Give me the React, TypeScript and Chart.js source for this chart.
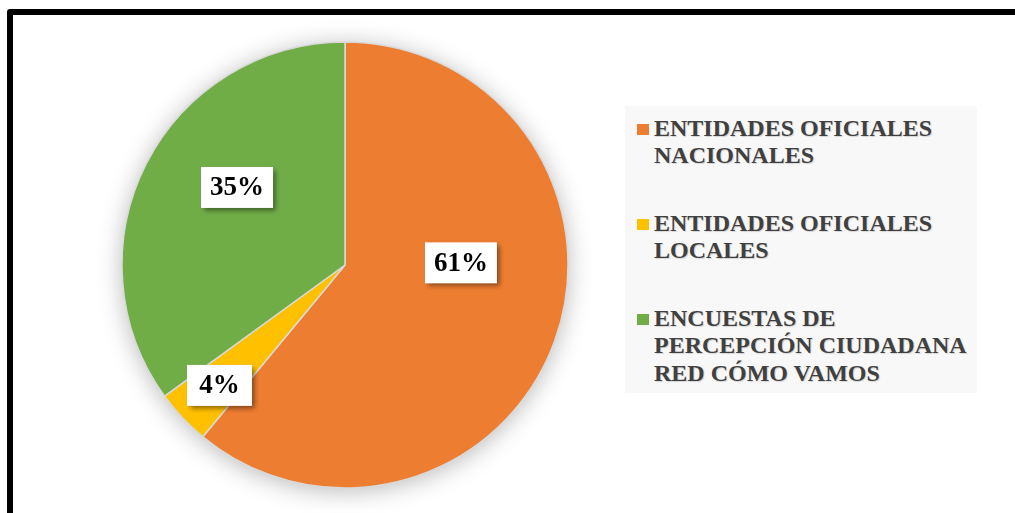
import React, { useEffect, useRef } from "react";
import { Chart, registerables } from "chart.js";

Chart.register(...registerables);

const categories: string[][] = [
  ["ENTIDADES OFICIALES", "NACIONALES"],
  ["ENTIDADES OFICIALES", "LOCALES"],
  ["ENCUESTAS DE", "PERCEPCIÓN CIUDADANA", "RED CÓMO VAMOS"],
];
const values: number[] = [61, 4, 35];
const valueLabels: string[] = ["61%", "4%", "35%"];
const colors: string[] = ["#ED7D31", "#FFC000", "#70AD47"];

// label placement inside each slice (fraction of slice angle, fraction of radius)
const labelAngleFrac = [0.405, 0.458, 0.569];
const labelRadiusFrac = [0.52, 0.78, 0.596];

const FONT = "'Liberation Serif', 'Times New Roman', serif";

const pieShadowPlugin = {
  id: "pieShadow",
  beforeDatasetsDraw(chart: any) {
    const meta = chart.getDatasetMeta(0);
    const arc = meta.data[0];
    if (!arc) return;
    const { x, y, outerRadius } = arc.getProps(["x", "y", "outerRadius"], true);
    const ctx = chart.ctx;
    ctx.save();
    ctx.beginPath();
    ctx.arc(x, y, outerRadius, 0, Math.PI * 2);
    ctx.fillStyle = "#ffffff";
    ctx.shadowColor = "rgba(0,0,0,0.28)";
    ctx.shadowBlur = 24;
    ctx.shadowOffsetX = 0;
    ctx.shadowOffsetY = 3;
    ctx.fill();
    ctx.restore();
  },
};

const valueLabelPlugin = {
  id: "valueLabels",
  afterDatasetsDraw(chart: any) {
    const meta = chart.getDatasetMeta(0);
    const ctx = chart.ctx;
    meta.data.forEach((arc: any, i: number) => {
      const p = arc.getProps(["x", "y", "startAngle", "endAngle", "outerRadius"], true);
      const a = p.startAngle + labelAngleFrac[i] * (p.endAngle - p.startAngle);
      const r = labelRadiusFrac[i] * p.outerRadius;
      const cx = p.x + Math.cos(a) * r;
      const cy = p.y + Math.sin(a) * r;
      const text = valueLabels[i];
      ctx.save();
      ctx.font = `bold 27px ${FONT}`;
      const tw = ctx.measureText(text).width;
      const bw = Math.max(tw + 18, 65);
      const bh = 41;
      ctx.fillStyle = "#ffffff";
      ctx.shadowColor = "rgba(0,0,0,0.45)";
      ctx.shadowBlur = 5;
      ctx.shadowOffsetX = 3;
      ctx.shadowOffsetY = 3;
      ctx.fillRect(cx - bw / 2, cy - bh / 2, bw, bh);
      ctx.shadowColor = "transparent";
      ctx.fillStyle = "#000000";
      ctx.textAlign = "center";
      ctx.textBaseline = "middle";
      ctx.fillText(text, cx, cy + 1);
      ctx.restore();
    });
  },
};

export default function App() {
  const ref = useRef<HTMLCanvasElement | null>(null);

  useEffect(() => {
    if (!ref.current) return;
    const chart = new Chart(ref.current, {
      type: "pie",
      data: {
        labels: categories.map((c) => c.join(" ")),
        datasets: [
          {
            data: values,
            backgroundColor: colors,
            borderColor: "#d9d9d9",
            borderWidth: 1.5,
            hoverOffset: 0,
          },
        ],
      },
      options: {
        animation: false,
        responsive: false,
        radius: 223,
        layout: { padding: { top: 17, bottom: 0, left: 0, right: 0 } },
        plugins: {
          legend: { display: false },
          tooltip: { enabled: false },
        },
      } as any,
      plugins: [pieShadowPlugin, valueLabelPlugin],
    });
    return () => chart.destroy();
  }, []);

  return (
    <div
      style={{
        position: "fixed",
        left: 0,
        top: 0,
        width: 1015,
        height: 513,
        overflow: "hidden",
        background: "#ffffff",
      }}
    >
      <canvas
        ref={ref}
        width={690}
        height={513}
        style={{ position: "absolute", left: 0, top: 0, width: 690, height: 513 }}
      />
      <div
        style={{
          position: "absolute",
          left: 625,
          top: 106,
          width: 352,
          height: 287,
          background: "#f8f8f8",
        }}
      >
        {categories.map((lines, i) => (
          <div
            key={i}
            style={{
              position: "absolute",
              left: 29,
              top: 8.6 + i * 95,
              fontFamily: FONT,
              fontWeight: "bold",
              fontSize: 24,
              lineHeight: "27.5px",
              color: "#404040",
              whiteSpace: "nowrap",
              textShadow: "1px 1px 1px rgba(0,0,0,0.15)",
            }}
          >
            <span
              style={{
                position: "absolute",
                left: -17,
                top: 9,
                width: 12,
                height: 11,
                background: colors[i],
              }}
            />
            {lines.map((l, j) => (
              <div key={j}>{l}</div>
            ))}
          </div>
        ))}
      </div>
      <div
        style={{
          position: "absolute",
          left: 7,
          top: 9,
          width: 1100,
          height: 600,
          border: "6px solid #000",
          borderRadius: 3,
          boxSizing: "border-box",
          pointerEvents: "none",
        }}
      />
    </div>
  );
}
